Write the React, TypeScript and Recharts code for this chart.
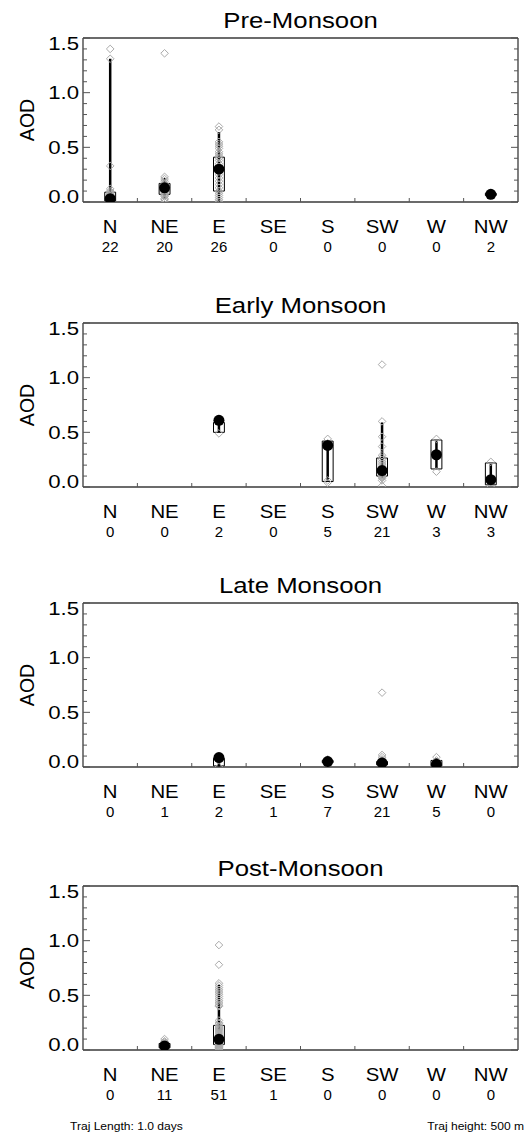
import { ComposedChart, Scatter, XAxis, YAxis, ReferenceArea, ReferenceLine } from 'recharts';

// wind sector of the back trajectory
const DIRECTIONS = ['N', 'NE', 'E', 'SE', 'S', 'SW', 'W', 'NW'];
const X_TICKS = [1, 1.5, 2, 2.5, 3, 3.5, 4, 4.5, 5, 5.5, 6, 6.5, 7, 7.5, 8];
const TOP_TICKS = [1.5, 2.5, 3.5, 4.5, 5.5, 6.5, 7.5];
const Y_TICKS = [0, 0.1, 0.2, 0.3, 0.4, 0.5, 0.6, 0.7, 0.8, 0.9, 1.0, 1.1, 1.2, 1.3, 1.4, 1.5];
const SEASONS = ['Pre-Monsoon', 'Early Monsoon', 'Late Monsoon', 'Post-Monsoon'];

// Pre-Monsoon
const preCounts = [22, 20, 26, 0, 0, 0, 0, 2];
const prePoints = [
  [1.40, 1.31, 0.33, 0.12, 0.10, 0.09, 0.08, 0.07, 0.06, 0.05, 0.05, 0.04, 0.04, 0.03, 0.03, 0.02, 0.02, 0.01, 0.01, 0.0, 0.0, 0.0],
  [1.36, 0.23, 0.21, 0.19, 0.17, 0.16, 0.15, 0.14, 0.13, 0.12, 0.11, 0.10, 0.09, 0.08, 0.07, 0.06, 0.05, 0.03, 0.02, 0.0],
  [0.69, 0.66, 0.55, 0.53, 0.51, 0.49, 0.46, 0.44, 0.42, 0.40, 0.38, 0.35, 0.32, 0.30, 0.28, 0.25, 0.22, 0.19, 0.16, 0.13, 0.10, 0.08, 0.06, 0.04, 0.02, 0.0],
  [], [], [], [],
  [0.08, 0.06],
];
const preBoxes = [[0.01, 0.09], [0.07, 0.17], [0.10, 0.41], null, null, null, null, [0.06, 0.08]];
const preWhiskers = [[0.0, 1.31], [0.03, 0.22], [0.0, 0.64], null, null, null, null, null];
const preCenters = [0.03, 0.13, 0.30, null, null, null, null, 0.07];

// Early Monsoon
const earlyCounts = [0, 0, 2, 0, 5, 21, 3, 3];
const earlyPoints = [
  [], [],
  [0.62, 0.49],
  [],
  [0.44, 0.40, 0.38, 0.06, 0.04],
  [1.12, 0.60, 0.46, 0.37, 0.29, 0.27, 0.25, 0.23, 0.21, 0.19, 0.17, 0.16, 0.15, 0.13, 0.12, 0.11, 0.10, 0.09, 0.08, 0.06, 0.01],
  [0.44, 0.29, 0.14],
  [0.23, 0.07, 0.0],
];
const earlyBoxes = [null, null, [0.50, 0.59], null, [0.05, 0.42], [0.10, 0.265], [0.165, 0.43], [0.02, 0.22]];
const earlyWhiskers = [null, null, [0.50, 0.61], null, [0.06, 0.38], [0.08, 0.59], [0.17, 0.42], [0.02, 0.21]];
const earlyCenters = [null, null, 0.61, null, 0.38, 0.15, 0.295, 0.067];

// Late Monsoon
const lateCounts = [0, 1, 2, 1, 7, 21, 5, 0];
const latePoints = [
  [], [],
  [0.09, 0.0],
  [],
  [0.07, 0.06, 0.05, 0.05, 0.04, 0.04, 0.03],
  [0.68, 0.11, 0.09, 0.07, 0.06, 0.05, 0.05, 0.04, 0.04, 0.04, 0.03, 0.03, 0.03, 0.03, 0.02, 0.02, 0.02, 0.01, 0.01, 0.0, 0.0],
  [0.09, 0.06, 0.04, 0.02, 0.0],
  [],
];
const lateBoxes = [null, null, [0.01, 0.08], null, [0.04, 0.06], [0.02, 0.05], [0.01, 0.06], null];
const lateWhiskers = [null, null, [0.0, 0.08], null, null, [0.0, 0.09], [0.0, 0.08], null];
const lateCenters = [null, null, 0.086, null, 0.05, 0.037, 0.025, null];

// Post-Monsoon
const postCounts = [0, 11, 51, 1, 0, 0, 0, 0];
const postPoints = [
  [],
  [0.10, 0.08, 0.07, 0.06, 0.05, 0.04, 0.04, 0.03, 0.02, 0.01, 0.0],
  [0.96, 0.78, 0.61, 0.59, 0.57, 0.55, 0.53, 0.51, 0.49, 0.47,
   0.45, 0.43, 0.41, 0.40, 0.27, 0.25, 0.24, 0.22, 0.21, 0.20,
   0.19, 0.18, 0.17, 0.16, 0.15, 0.14, 0.13, 0.12, 0.12, 0.11,
   0.10, 0.10, 0.09, 0.09, 0.08, 0.08, 0.07, 0.07, 0.06, 0.06,
   0.05, 0.05, 0.04, 0.04, 0.03, 0.03, 0.02, 0.02, 0.01, 0.01, 0.0],
  [], [], [], [], [],
];
const postBoxes = [null, [0.02, 0.06], [0.05, 0.225], null, null, null, null, null];
const postWhiskers = [null, [0.0, 0.08], [0.05, 0.595], null, null, null, null, null];
const postCenters = [null, 0.037, 0.098, null, null, null, null, null];

const panels = [
  { counts: preCounts, points: prePoints, boxes: preBoxes, whiskers: preWhiskers, centers: preCenters },
  { counts: earlyCounts, points: earlyPoints, boxes: earlyBoxes, whiskers: earlyWhiskers, centers: earlyCenters },
  { counts: lateCounts, points: latePoints, boxes: lateBoxes, whiskers: lateWhiskers, centers: lateCenters },
  { counts: postCounts, points: postPoints, boxes: postBoxes, whiskers: postWhiskers, centers: postCenters },
];

const W = 531;
const H = 280;
const PANEL_TOPS = [0, 285, 565, 848];
const PL = 83;
const PR = 518;
const PT = 38;
const PB = 202;
// room reserved for the axes inside the margins
const LEFT_AX = 60;
const RIGHT_AX = 10;
const TOP_AX = 10;
const BOTTOM_AX = 60;
const FONT = '"Liberation Sans", Arial, Helvetica, sans-serif';
const FRAME = '#3a3a3a';
const TICK = '#555';

const isMajor = (v: number) => Math.abs(v * 2 - Math.round(v * 2)) < 1e-6;

function leftTick(props: any) {
  const { y, payload } = props;
  const v = payload.value;
  const major = isMajor(v);
  let dy = 0;
  if (v >= 1.49) dy = 5;
  if (v <= 0.01) dy = -6;
  return (
    <g>
      <line x1={PL} x2={PL + (major ? 7 : 4)} y1={y} y2={y} stroke={TICK} strokeWidth={1} />
      {major && (
        <text
          transform={`translate(${PL - 4},${y + dy}) scale(1.2,1)`}
          textAnchor="end"
          dy="0.36em"
          fontSize={18.5}
          fontFamily={FONT}
          fill="#000"
        >
          {v.toFixed(1)}
        </text>
      )}
    </g>
  );
}

function rightTick(props: any) {
  const { y, payload } = props;
  const major = isMajor(payload.value);
  return <line x1={PR} x2={PR - (major ? 7 : 4)} y1={y} y2={y} stroke={TICK} strokeWidth={1} />;
}

function topTick(props: any) {
  const { x } = props;
  return <line x1={x} x2={x} y1={PT} y2={PT + 4} stroke={TICK} strokeWidth={1} />;
}

function makeBottomTick(counts: number[]) {
  return (props: any) => {
    const { x, payload } = props;
    const v = payload.value;
    if (!Number.isInteger(v)) {
      return <line x1={x} x2={x} y1={PB} y2={PB - 4} stroke={TICK} strokeWidth={1} />;
    }
    return (
      <g>
        <text
          transform={`translate(${x},${PB + 31}) scale(1.1,1)`}
          textAnchor="middle"
          fontSize={18.5}
          fontFamily={FONT}
          fill="#000"
        >
          {DIRECTIONS[v - 1]}
        </text>
        <text x={x} y={PB + 49.5} textAnchor="middle" fontSize={15} fontFamily={FONT} fill="#000">
          {counts[v - 1]}
        </text>
      </g>
    );
  };
}

const diamondShape = (props: any) => {
  const { cx, cy } = props;
  const r = 3.8;
  return (
    <polygon
      points={`${cx},${cy - r} ${cx + r},${cy} ${cx},${cy + r} ${cx - r},${cy}`}
      fill="none"
      stroke="#aaaaaa"
      strokeWidth={1}
    />
  );
};

const dotShape = (props: any) => <circle cx={props.cx} cy={props.cy} r={5.5} fill="#000" />;

function SeasonChart({ panel }: { panel: (typeof panels)[number] }) {
  const diamonds = panel.points.flatMap((vals, i) => vals.map((v) => ({ x: i + 1, y: v })));
  const dots = panel.centers
    .map((v, i) => (v == null ? null : { x: i + 1, y: v }))
    .filter(Boolean) as { x: number; y: number }[];

  return (
    <ComposedChart
      width={W}
      height={H}
      margin={{
        top: PT - TOP_AX,
        right: W - PR - RIGHT_AX,
        bottom: H - PB - BOTTOM_AX,
        left: PL - LEFT_AX,
      }}
    >
      <XAxis
        xAxisId="b"
        type="number"
        dataKey="x"
        domain={[0.5, 8.5]}
        ticks={X_TICKS}
        interval={0}
        height={BOTTOM_AX}
        tickLine={false}
        axisLine={{ stroke: FRAME, strokeWidth: 1.3 }}
        tick={makeBottomTick(panel.counts)}
        allowDataOverflow
      />
      <XAxis
        xAxisId="t"
        orientation="top"
        type="number"
        domain={[0.5, 8.5]}
        ticks={TOP_TICKS}
        interval={0}
        height={TOP_AX}
        tickLine={false}
        axisLine={{ stroke: FRAME, strokeWidth: 1.3 }}
        tick={topTick}
        allowDataOverflow
      />
      <YAxis
        yAxisId="l"
        type="number"
        dataKey="y"
        domain={[0, 1.5]}
        ticks={Y_TICKS}
        interval={0}
        width={LEFT_AX}
        tickLine={false}
        axisLine={{ stroke: FRAME, strokeWidth: 1.3 }}
        tick={leftTick}
        allowDataOverflow
      />
      <YAxis
        yAxisId="r"
        orientation="right"
        type="number"
        domain={[0, 1.5]}
        ticks={Y_TICKS}
        interval={0}
        width={RIGHT_AX}
        tickLine={false}
        axisLine={{ stroke: FRAME, strokeWidth: 1.3 }}
        tick={rightTick}
        allowDataOverflow
      />
      <Scatter xAxisId="b" yAxisId="l" data={diamonds} shape={diamondShape} isAnimationActive={false} />
      {panel.boxes.map((b, i) =>
        b ? (
          <ReferenceArea
            key={`box${i}`}
            xAxisId="b"
            yAxisId="l"
            x1={i + 1 - 0.1}
            x2={i + 1 + 0.1}
            y1={b[0]}
            y2={b[1]}
            fill="none"
            fillOpacity={0}
            stroke="#000"
            strokeWidth={1}
            ifOverflow="visible"
          />
        ) : null
      )}
      {panel.whiskers.map((w, i) =>
        w ? (
          <ReferenceLine
            key={`wh${i}`}
            xAxisId="b"
            yAxisId="l"
            segment={[{ x: i + 1, y: w[0] }, { x: i + 1, y: w[1] }]}
            stroke="#000"
            strokeWidth={2.5}
            ifOverflow="visible"
          />
        ) : null
      )}
      <Scatter xAxisId="b" yAxisId="l" data={dots} shape={dotShape} isAnimationActive={false} />
    </ComposedChart>
  );
}

export default function App() {
  return (
    <div style={{ position: 'absolute', left: 0, top: 0, width: W, height: 1136, background: '#fff' }}>
      {panels.map((p, i) => (
        <div key={SEASONS[i]} style={{ position: 'absolute', left: 0, top: PANEL_TOPS[i] }}>
          <SeasonChart panel={p} />
        </div>
      ))}
      <svg
        width={W}
        height={1136}
        style={{ position: 'absolute', left: 0, top: 0, pointerEvents: 'none' }}
        fontFamily={FONT}
      >
        {SEASONS.map((s, i) => (
          <g key={s}>
            <text
              transform={`translate(${(PL + PR) / 2},${PANEL_TOPS[i] + PT - 9.7}) scale(1.12,1)`}
              textAnchor="middle"
              fontSize={23}
              fill="#000"
            >
              {s}
            </text>
            <text
              transform={`translate(33.5,${PANEL_TOPS[i] + (PT + PB) / 2}) rotate(-90)`}
              textAnchor="middle"
              fontSize={19.5}
              fill="#000"
            >
              AOD
            </text>
          </g>
        ))}
        <text transform="translate(70,1130) scale(1.15,1)" fontSize={10.5} fill="#000">
          Traj Length: 1.0 days
        </text>
        <text transform="translate(524,1130) scale(1.15,1)" textAnchor="end" fontSize={10.5} fill="#000">
          Traj height: 500 m
        </text>
      </svg>
    </div>
  );
}
